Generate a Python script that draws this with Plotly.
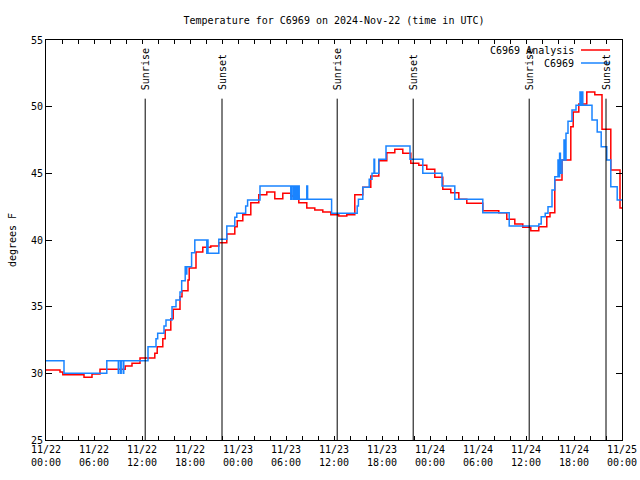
import plotly.graph_objects as go
import pandas as pd

# ---------------- data ----------------
start = pd.Timestamp("2024-11-22 00:00")
end = pd.Timestamp("2024-11-25 00:00")

analysis_hours = [0, 1.75, 2.1, 4.75, 5.75, 6.75, 9.9, 10.75, 11.75, 13.6, 13.9, 14.6, 14.9, 15.6, 15.9,
                  16.75, 17.0, 17.75, 17.9, 18.75, 19.6, 20.6, 21.6, 22.6, 23.6, 23.9, 24.6, 25.6, 26.6,
                  27.6, 28.6, 29.6, 30.6, 31.6, 32.6, 33.6, 34.6, 35.6, 36.6, 37.6, 38.6, 39.6, 40.6,
                  41.6, 42.6, 43.6, 44.6, 45.6, 46.6, 47.6, 48.6, 49.6, 50.6, 51.6, 52.6, 54.6, 56.6,
                  57.6, 58.6, 59.6, 60.6, 61.6, 62.6, 63.0, 63.6, 64.5, 65.6, 65.9, 66.6, 67.6, 68.6,
                  69.5, 70.6, 71.75, 72]
analysis_temps = [30.25, 30.1, 29.9, 29.7, 29.95, 30.3, 30.55, 30.75, 31.15, 31.5, 32.0, 32.6, 33.25, 34.1,
                  34.8, 35.75, 36.2, 37.0, 37.9, 39.1, 39.45, 39.55, 39.8, 40.45, 41.0, 41.45, 41.9, 42.8,
                  43.4, 43.6, 43.1, 43.5, 43.3, 42.8, 42.4, 42.25, 42.1, 41.9, 41.8, 41.9, 43.4, 43.95,
                  44.8, 45.95, 46.55, 46.8, 46.5, 45.75, 45.6, 45.3, 44.7, 43.8, 43.55, 43.05, 42.75,
                  42.2, 42.05, 41.55, 41.2, 40.95, 40.7, 41.0, 41.75, 42.05, 44.5, 46.0, 48.5, 49.6,
                  50.2, 51.1, 50.9, 48.3, 45.25, 42.4, 42.4]

obs_hours = [0, 2.25, 7.6, 9.04, 9.1, 9.34, 9.4, 9.66, 9.72, 12.75, 13.75, 13.96, 14.75, 15.0, 15.75,
             16.25, 16.75, 16.96, 17.4, 17.5, 17.6, 18.2, 18.6, 20.1, 20.15, 20.25, 21.6, 22.6, 23.6,
             23.85, 24.96, 25.2, 26.75, 30.6, 30.7, 30.9, 31.0, 31.15, 31.2, 31.3, 31.35, 31.45, 31.5,
             31.65, 32.6, 32.7, 35.7, 38.9, 39.05, 39.6, 40.4, 40.75, 41.0, 41.08, 41.6, 42.5, 45.5,
             47.1, 49.5, 51.1, 54.6, 57.9, 61.6, 61.9, 62.4, 62.75, 63.25, 63.6, 64.0, 64.1, 64.2,
             64.3, 64.5, 64.75, 64.85, 65.0, 65.25, 65.75, 66.25, 66.75, 66.8, 66.9, 66.95, 67.05,
             67.1, 68.25, 68.9, 69.4, 70.1, 70.6, 71.4, 72]
obs_temps = [30.95, 30.0, 30.95, 30.0, 30.95, 30.0, 30.95, 30.0, 30.95, 32.0, 32.6, 33.0, 33.55, 34.0,
             35.0, 35.5, 36.1, 36.95, 38.0, 37.45, 38.0, 39.05, 40.0, 39.0, 40.0, 39.0, 40.05, 41.05,
             41.7, 42.0, 42.55, 43.0, 44.05, 43.05, 44.05, 43.05, 44.05, 43.05, 44.05, 43.05, 44.05,
             43.05, 44.05, 43.05, 44.05, 43.05, 42.0, 42.55, 43.05, 43.95, 44.55, 45.0, 46.05, 45.0,
             46.05, 47.05, 46.05, 45.0, 44.05, 43.05, 42.05, 41.05, 41.2, 41.75, 42.0, 42.5, 43.75,
             44.75, 46.0, 44.75, 46.5, 45.0, 46.0, 47.5, 46.0, 48.0, 48.9, 49.75, 50.1, 51.1, 50.1,
             51.1, 50.1, 51.1, 50.1, 49.0, 48.1, 47.0, 46.0, 44.0, 43.0, 43.0]

event_hours = [12.4, 22.0, 36.4, 45.9, 60.4, 70.0]
event_labels = ["Sunrise", "Sunset", "Sunrise", "Sunset", "Sunrise", "Sunset"]

tick_hours = [0, 6, 12, 18, 24, 30, 36, 42, 48, 54, 60, 66, 72]

y_min, y_max = 25, 55
line_top = 50.6
label_base = 51.1


def to_time(hours):
    return [start + pd.Timedelta(hours=h) for h in hours]


FONT = "DejaVu Sans Mono"
RED = "#ff0000"
BLUE = "#1a84ff"

fig = go.Figure()
fig.add_trace(go.Scatter(x=to_time(analysis_hours), y=analysis_temps, mode="lines",
                         line=dict(color=RED, width=1.5, shape="hv"),
                         name="C6969 Analysis", showlegend=False))
fig.add_trace(go.Scatter(x=to_time(obs_hours), y=obs_temps, mode="lines",
                         line=dict(color=BLUE, width=1.5, shape="hv"),
                         name="C6969", showlegend=False))

shapes = []
annotations = []
for h, lab in zip(to_time(event_hours), event_labels):
    shapes.append(dict(type="line", xref="x", yref="y", x0=h, x1=h, y0=y_min, y1=line_top,
                       line=dict(color="black", width=1)))
    annotations.append(dict(x=h, y=label_base, xref="x", yref="y", text=lab, textangle=-90,
                            showarrow=False, xanchor="center", yanchor="bottom",
                            font=dict(family=FONT, size=10, color="black")))

# legend (gnuplot style: text right-aligned, sample to the right)
leg_items = [("C6969 Analysis", RED, 50), ("C6969", BLUE, 63)]
for text, col, ypx in leg_items:
    yp = 1 - (ypx - 40) / 400
    annotations.append(dict(x=(576 - 46) / 576, y=yp, xref="paper", yref="paper", text=text,
                            showarrow=False, xanchor="right", yanchor="middle",
                            font=dict(family=FONT, size=10, color="black")))
    shapes.append(dict(type="line", xref="paper", yref="paper",
                       x0=(581 - 46) / 576, x1=(610 - 46) / 576, y0=yp, y1=yp,
                       line=dict(color=col, width=1.5)))

fig.update_layout(
    width=640, height=480,
    margin=dict(l=46, r=18, t=40, b=40),
    paper_bgcolor="white", plot_bgcolor="white",
    title=dict(text="Temperature for C6969 on 2024-Nov-22 (time in UTC)", x=334 / 640, xanchor="center",
               y=1 - 20 / 480, yanchor="middle", font=dict(family=FONT, size=10, color="black")),
    font=dict(family=FONT, size=10, color="black"),
    shapes=shapes, annotations=annotations,
    showlegend=False,
)
fig.update_xaxes(
    range=[start, end], type="date", automargin=False,
    tickvals=to_time(tick_hours), tickformat="%m/%d<br>%H:%M",
    ticks="inside", ticklen=4, tickcolor="black", tickwidth=1,
    minor=dict(dtick=2 * 3600 * 1000, ticks="inside", ticklen=4, tickcolor="black", showgrid=False),
    showline=True, linecolor="black", linewidth=1, mirror="allticks",
    showgrid=False, zeroline=False,
    tickfont=dict(family=FONT, size=10, color="black"),
)
fig.update_yaxes(
    range=[y_min, y_max], tickvals=[25, 30, 35, 40, 45, 50, 55], automargin=False,
    ticks="inside", ticklen=6, tickcolor="black", tickwidth=1,
    showline=True, linecolor="black", linewidth=1, mirror="allticks",
    showgrid=False, zeroline=False,
    title=dict(text="degrees F", font=dict(family=FONT, size=10, color="black"), standoff=12),
    tickfont=dict(family=FONT, size=10, color="black"),
)

fig.write_html("out.html", config={"displayModeBar": False},
               post_script="document.body.style.margin='0';document.body.style.overflow='hidden';")
